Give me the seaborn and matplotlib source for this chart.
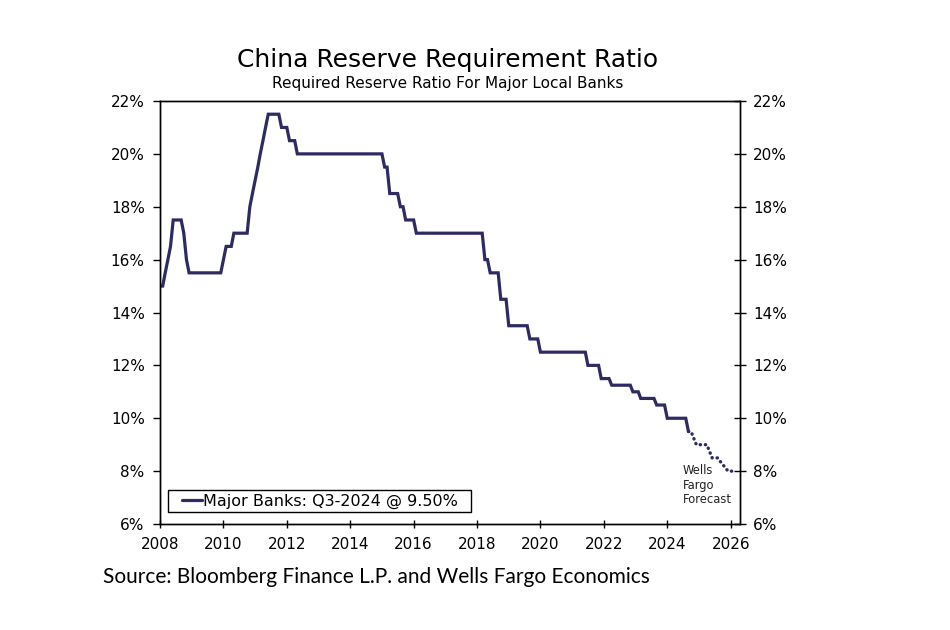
import matplotlib
matplotlib.use("Agg")
import matplotlib.pyplot as plt
import matplotlib.dates as mdates
from matplotlib.ticker import FuncFormatter
from matplotlib.legend_handler import HandlerLine2D
import seaborn as sns
import pandas as pd

# ---------------- data ----------------
hist_dates = [
    "2008-01", "2008-02", "2008-03", "2008-04", "2008-05", "2008-06", "2008-09", "2008-10", "2008-11", "2008-12",
    "2009-12",
    "2010-01", "2010-02", "2010-04", "2010-05", "2010-10", "2010-11", "2010-12",
    "2011-01", "2011-02", "2011-03", "2011-04", "2011-05", "2011-06", "2011-10", "2011-11",
    "2012-01", "2012-02", "2012-04", "2012-05",
    "2015-01", "2015-02", "2015-03", "2015-04", "2015-07", "2015-08", "2015-09", "2015-10",
    "2016-01", "2016-02",
    "2018-03", "2018-04", "2018-05", "2018-06", "2018-09", "2018-10", "2018-12",
    "2019-01", "2019-08", "2019-09", "2019-12",
    "2020-01",
    "2021-06", "2021-07", "2021-11", "2021-12",
    "2022-03", "2022-04", "2022-11", "2022-12",
    "2023-02", "2023-03", "2023-08", "2023-09", "2023-12",
    "2024-01", "2024-08", "2024-09",
]
hist_values = [
    15.0, 15.0, 15.5, 16.0, 16.5, 17.5, 17.5, 17.0, 16.0, 15.5,
    15.5,
    16.0, 16.5, 16.5, 17.0, 17.0, 18.0, 18.5,
    19.0, 19.5, 20.0, 20.5, 21.0, 21.5, 21.5, 21.0,
    21.0, 20.5, 20.5, 20.0,
    20.0, 19.5, 19.5, 18.5, 18.5, 18.0, 18.0, 17.5,
    17.5, 17.0,
    17.0, 16.0, 16.0, 15.5, 15.5, 14.5, 14.5,
    13.5, 13.5, 13.0, 13.0,
    12.5,
    12.5, 12.0, 12.0, 11.5,
    11.5, 11.25, 11.25, 11.0,
    11.0, 10.75, 10.75, 10.5, 10.5,
    10.0, 10.0, 9.5,
]
fcst_dates = ["2024-09", "2024-10", "2024-12", "2025-04", "2025-06", "2025-08", "2025-12", "2026-02"]
fcst_values = [9.5, 9.5, 9.0, 9.0, 8.5, 8.5, 8.0, 8.0]

y_ticks = [6, 8, 10, 12, 14, 16, 18, 20, 22]
x_tick_years = [2008, 2010, 2012, 2014, 2016, 2018, 2020, 2022, 2024, 2026]

title = "China Reserve Requirement Ratio"
subtitle = "Required Reserve Ratio For Major Local Banks"
source = "Source: Bloomberg Finance L.P. and Wells Fargo Economics"
legend_label = "Major Banks: Q3-2024 @ 9.50%"
forecast_note = "Wells\nFargo\nForecast"

LINE = "#2E2A62"

# ---------------- figure ----------------
sns.set_theme(style="white")
plt.rcParams["font.family"] = ["DejaVu Sans"]

hist = pd.DataFrame({"date": pd.to_datetime(hist_dates), "ratio": hist_values})
fcst = pd.DataFrame({"date": pd.to_datetime(fcst_dates), "ratio": fcst_values})

fig = plt.figure(figsize=(9.5, 6.3), dpi=100)
ax = fig.add_axes([0.16842, 0.16825, 0.61053, 0.67143])

sns.lineplot(data=hist, x="date", y="ratio", ax=ax, color=LINE, linewidth=2.3,
             legend=False, solid_joinstyle="miter")
sns.lineplot(data=fcst, x="date", y="ratio", ax=ax, color=LINE, linewidth=2.4,
             legend=False, linestyle=(0, (0.1, 1.45)), dash_capstyle="round")

ax.set_xlim(pd.Timestamp("2008-01-01"), pd.Timestamp("2026-04-18"))
ax.set_ylim(6, 22)
ax.set_xlabel("")
ax.set_ylabel("")

ax.set_xticks([pd.Timestamp(f"{y}-01-01") for y in x_tick_years])
ax.xaxis.set_major_formatter(mdates.DateFormatter("%Y"))
ax.set_yticks(y_ticks)
pct = FuncFormatter(lambda v, p: f"{v:.0f}%")
ax.yaxis.set_major_formatter(pct)

ax2 = ax.twinx()
ax2.set_ylim(6, 22)
ax2.set_yticks(y_ticks)
ax2.yaxis.set_major_formatter(pct)
ax2.set_ylabel("")

for a in (ax, ax2):
    for s in a.spines.values():
        s.set_visible(True)
        s.set_color("black")
        s.set_linewidth(1.0)

ax.tick_params(axis="y", which="major", left=True, right=False, direction="out",
               length=5, width=1, pad=6, labelsize=11, color="black", labelcolor="black")
ax.tick_params(axis="x", which="major", bottom=True, direction="inout",
               length=6, width=1, pad=6, labelsize=11, color="black", labelcolor="black")
ax2.tick_params(axis="y", which="major", right=True, left=False, direction="inout",
                length=8.5, width=1, pad=5, labelsize=11, color="black", labelcolor="black")

# legend (solid series only)
handle = ax.lines[0]
leg = ax.legend([handle], [legend_label + "  "], loc="lower left",
                bbox_to_anchor=(0.0138, 0.0284), borderaxespad=0, frameon=True,
                fancybox=False, shadow=False, framealpha=1, fontsize=11.5,
                borderpad=0.2, handlelength=1.95, handletextpad=0.05,
                handler_map={handle: HandlerLine2D(xpad=0.7)})
leg.get_frame().set_edgecolor("black")
leg.get_frame().set_linewidth(1.0)
for t in leg.get_texts():
    t.set_color("black")

ax.text(0.9012, 0.1418, forecast_note, transform=ax.transAxes, ha="left", va="top",
        fontsize=8.3, linespacing=1.15, color="#222222")

fig.text(0.471, 0.8937, title, ha="center", va="baseline", fontsize=18, color="black")
fig.text(0.471, 0.8598, subtitle, ha="center", va="baseline", fontsize=11, color="black")
fig.text(0.108, 0.0741, source, ha="left", va="baseline", fontsize=15,
         family=["Lato", "DejaVu Sans"], color="black")

fig.savefig("out.png", dpi=100)
